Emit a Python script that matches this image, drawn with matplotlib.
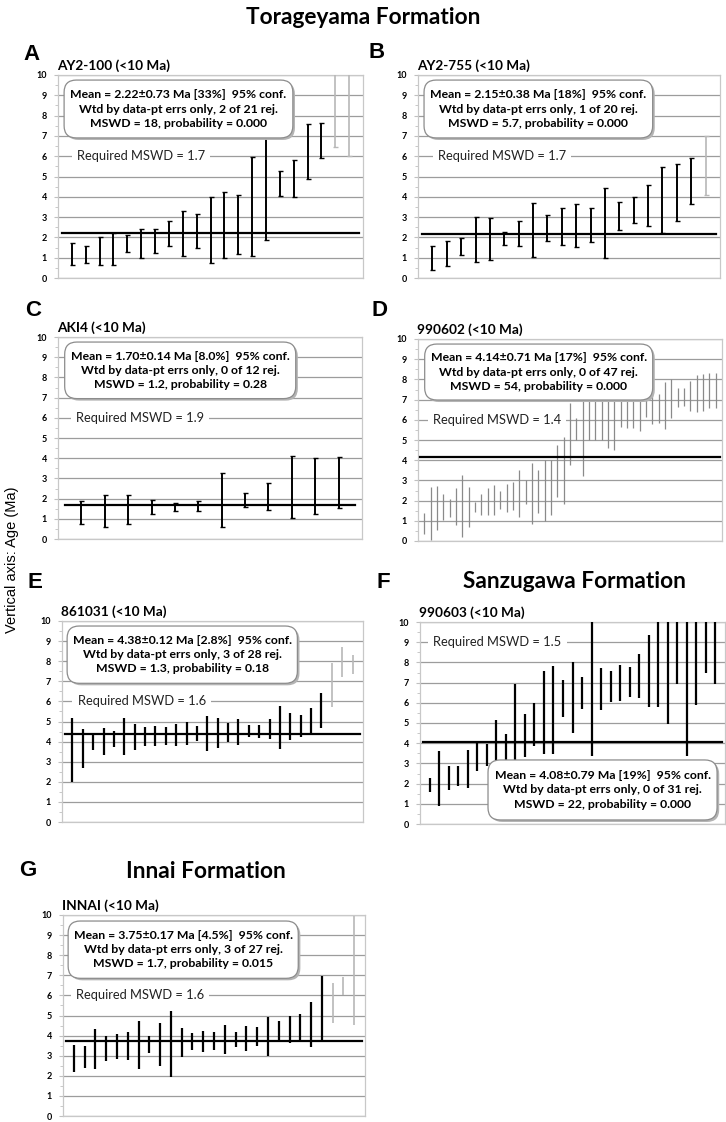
import numpy as np
import matplotlib
matplotlib.use("Agg")
import matplotlib.pyplot as plt
from matplotlib.patches import FancyBboxPatch

plt.rcParams['font.family'] = ['Lato', 'DejaVu Sans']

W, H = 726, 1122

# ---- data: lower / upper ends of each error bar (Ma) ----
A_lo = [0.65, 0.75, 0.65, 0.65, 1.3, 1.0, 1.25, 1.6, 1.1, 1.5, 0.75, 1.0, 1.2, 1.1, 1.85, 4.05, 4.0, 4.9, 5.9, 6.45, 6.0]
A_hi = [1.7, 1.6, 2.0, 2.2, 2.1, 2.4, 2.4, 2.8, 3.3, 3.15, 4.0, 4.25, 4.1, 5.95, 9.0, 5.25, 5.8, 7.6, 7.65, 10.5, 10.5]
A_rej = [20, 21]

B_lo = [0.4, 0.6, 1.15, 0.8, 0.9, 1.65, 1.6, 1.05, 1.8, 1.65, 1.55, 1.75, 1.0, 2.35, 2.7, 2.55, 2.2, 2.8, 3.65, 4.1]
B_hi = [1.6, 1.8, 1.95, 3.0, 2.95, 2.25, 2.8, 3.7, 3.1, 3.45, 3.65, 3.45, 4.45, 3.75, 4.0, 4.6, 5.45, 5.6, 5.9, 7.0]
B_rej = [20]

C_lo = [0.75, 0.6, 0.75, 1.25, 1.4, 1.4, 0.6, 1.6, 1.45, 1.05, 1.25, 1.55]
C_hi = [1.9, 2.2, 2.2, 1.95, 1.8, 1.9, 3.25, 2.3, 2.75, 4.1, 4.0, 4.05]
C_rej = []

D_lo = [0.36, 0.07, 0.53, 1.02, 1.19, 0.78, 0.2, 0.7, 1.44, 1.27, 1.27, 1.27, 1.6, 1.44, 1.52, 1.19,
        1.85, 0.86, 1.39, 0.99, 1.27, 2.18, 1.85,
        3.75, 5.0, 3.2, 5.0, 5.0, 5.0, 4.6, 4.5, 5.65, 5.6, 5.6, 5.45, 6.15, 5.8, 5.85, 5.55,
        6.1, 6.65, 6.7, 6.45, 6.4, 6.45, 6.6, 6.6]
D_hi = [1.39, 2.68, 2.71, 2.35, 2.1, 2.6, 3.26, 2.68, 1.93, 2.35, 2.6, 2.76, 2.48, 2.84, 2.93, 3.5,
        3.0, 3.87, 3.5, 4.0, 4.0, 4.74, 5.16,
        6.85, 6.1, 7.6, 7.5, 7.4, 7.3, 7.5, 7.4, 7.2, 7.3, 7.2, 7.1, 7.2, 7.4, 7.3, 7.85,
        8.0, 7.55, 7.55, 7.9, 8.2, 8.25, 8.3, 8.3]
D_rej = []

E_lo = [1.99, 2.7, 3.6, 3.35, 3.71, 3.32, 3.6, 3.76, 3.76, 3.85, 3.76, 3.81, 4.01, 3.53, 3.68, 3.98,
        3.81, 4.23, 4.18, 4.15, 3.65, 4.06, 4.23, 4.31, 4.69, 5.72, 7.21, 7.35]
E_hi = [5.17, 4.64, 4.31, 4.68, 4.51, 5.17, 4.89, 4.73, 4.78, 4.73, 4.89, 4.98, 4.76, 5.27, 5.19, 4.93,
        5.14, 4.84, 4.84, 5.14, 5.77, 5.44, 5.34, 5.67, 6.43, 7.91, 8.71, 8.29]
E_rej = [26, 27, 28]

F_lo = [1.58, 0.87, 1.66, 1.86, 1.78, 2.6, 2.85, 3.0, 3.0, 3.0, 3.34, 3.87, 3.47, 3.47, 5.28, 4.49,
        5.7, 3.37, 5.64, 6.03, 6.1, 6.3, 6.25, 5.77, 5.77, 4.94, 6.95, 3.37, 5.88, 7.47, 6.93]
F_hi = [2.3, 3.59, 2.85, 2.89, 3.67, 4.08, 3.95, 5.15, 4.46, 6.92, 5.43, 5.97, 7.57, 7.83, 7.12, 8.0,
        7.29, 10.5, 7.74, 7.57, 7.88, 7.78, 8.42, 9.38, 10.5, 10.5, 10.5, 10.5, 10.5, 10.5, 10.5]
F_rej = []

G_lo = [2.17, 2.37, 2.32, 2.74, 2.84, 2.79, 2.32, 3.12, 2.49, 1.92, 2.92, 3.28, 3.2, 3.28, 3.08, 3.45,
        3.25, 3.48, 3.0, 3.7, 3.65, 3.73, 3.45, 3.73, 4.61, 6.02, 4.53]
G_hi = [3.53, 3.48, 4.31, 3.98, 4.08, 4.16, 4.73, 3.98, 4.64, 5.22, 4.36, 4.11, 4.23, 4.2, 4.53, 4.2,
        4.48, 4.44, 4.94, 4.74, 4.98, 5.07, 5.69, 6.97, 6.63, 6.93, 9.95]
G_rej = [25, 26, 27]

means = [2.22, 2.15, 1.70, 4.14, 4.38, 4.08, 3.75]
req_mswd = ["1.7", "1.7", "1.9", "1.4", "1.6", "1.5", "1.6"]
subtitles = ["AY2-100 (<10 Ma)", "AY2-755 (<10 Ma)", "AKI4 (<10 Ma)", "990602 (<10 Ma)",
             "861031 (<10 Ma)", "990603 (<10 Ma)", "INNAI (<10 Ma)"]
box_texts = [
    "Mean = 2.22\u00b10.73 Ma [33%]  95% conf.\nWtd by data-pt errs only, 2 of 21 rej.\nMSWD = 18, probability = 0.000",
    "Mean = 2.15\u00b10.38 Ma [18%]  95% conf.\nWtd by data-pt errs only, 1 of 20 rej.\nMSWD = 5.7, probability = 0.000",
    "Mean = 1.70\u00b10.14 Ma [8.0%]  95% conf.\nWtd by data-pt errs only, 0 of 12 rej.\nMSWD = 1.2, probability = 0.28",
    "Mean = 4.14\u00b10.71 Ma [17%]  95% conf.\nWtd by data-pt errs only, 0 of 47 rej.\nMSWD = 54, probability = 0.000",
    "Mean = 4.38\u00b10.12 Ma [2.8%]  95% conf.\nWtd by data-pt errs only, 3 of 28 rej.\nMSWD = 1.3, probability = 0.18",
    "Mean = 4.08\u00b10.79 Ma [19%]  95% conf.\nWtd by data-pt errs only, 0 of 31 rej.\nMSWD = 22, probability = 0.000",
    "Mean = 3.75\u00b10.17 Ma [4.5%]  95% conf.\nWtd by data-pt errs only, 3 of 27 rej.\nMSWD = 1.7, probability = 0.015",
]
letters = ["A", "B", "C", "D", "E", "F", "G"]

# ---- layout (pixels) ----
panels = [  # left, top, right, bottom
    (58, 75, 363, 278),
    (418, 75, 720, 278),
    (58, 337, 362, 539),
    (418, 339, 722, 541),
    (62, 621, 363, 822),
    (420, 622, 725, 824),
    (63, 915, 365, 1116),
]
letter_pos = [(32, 55), (377, 53), (33, 311), (380, 311), (35, 583), (383, 582), (28, 871)]
box_pos = [  # x0, x1, y0, y1 in axes fraction
    (0.02, 0.77, 0.69, 0.975),
    (0.02, 0.777, 0.69, 0.975),
    (0.022, 0.782, 0.695, 0.975),
    (0.022, 0.772, 0.698, 0.975),
    (0.017, 0.782, 0.69, 0.975),
    (0.223, 0.974, 0.02, 0.317),
    (0.017, 0.779, 0.685, 0.97),
]
req_pos = [(0.062, 6), (0.066, 6), (0.06, 6), (0.05, 6), (0.052, 6), (0.044, 9), (0.042, 6)]
styles = ["cap", "cap", "cap", "thin", "thick", "thick", "thick"]

data = [(A_lo, A_hi, A_rej), (B_lo, B_hi, B_rej), (C_lo, C_hi, C_rej), (D_lo, D_hi, D_rej),
        (E_lo, E_hi, E_rej), (F_lo, F_hi, F_rej), (G_lo, G_hi, G_rej)]

fig = plt.figure(figsize=(W / 100, H / 100), dpi=100)


def px(x, y):
    return x / W, 1 - y / H


for i in range(7):
    l, t, r, b = panels[i]
    ax = fig.add_axes([l / W, 1 - b / H, (r - l) / W, (b - t) / H])
    lo, hi, rej = data[i]
    lo = np.array(lo)
    hi = np.array(hi)
    n = len(lo)
    x = np.arange(1, n + 1)
    good = np.array([k not in rej for k in x])

    ax.set_xlim(0, n + 1)
    ax.set_ylim(0, 10)
    ax.set_yticks(range(11))
    ax.set_yticks(np.arange(0, 10.01, 0.5), minor=True)
    ax.set_xticks([])
    ax.grid(axis='y', color='#9c9c9c', lw=0.9, zorder=0)
    ax.set_axisbelow(True)
    for s in ax.spines.values():
        s.set_color('#c8c8c8')
        s.set_linewidth(0.9)
    ax.tick_params(axis='y', which='major', length=3, color='#c0c0c0', labelsize=6.5, pad=5)
    ax.tick_params(axis='y', which='minor', length=2, color='#c0c0c0')
    for lab in ax.get_yticklabels():
        lab.set_fontweight('bold')

    mid = (lo + hi) / 2
    err = (hi - lo) / 2
    if styles[i] == "cap":
        ax.errorbar(x[good], mid[good], yerr=err[good], fmt='none', ecolor='black',
                    elinewidth=1.4, capsize=1.8, capthick=1.0, zorder=3)
        ax.errorbar(x[~good], mid[~good], yerr=err[~good], fmt='none', ecolor='#b8b8b8',
                    elinewidth=1.2, capsize=1.8, capthick=1.0, zorder=3)
    elif styles[i] == "thin":
        ax.errorbar(x, mid, yerr=err, fmt='none', ecolor='#8a8a8a', elinewidth=0.9, zorder=3)
    else:
        ax.errorbar(x[good], mid[good], yerr=err[good], fmt='none', ecolor='black',
                    elinewidth=1.6, zorder=3)
        ax.errorbar(x[~good], mid[~good], yerr=err[~good], fmt='none', ecolor='#b8b8b8',
                    elinewidth=1.2, zorder=3)

    ax.plot([0.3, n + 0.7], [means[i], means[i]], color='black', lw=1.6, zorder=4)

    # required MSWD label
    rx, ry = req_pos[i]
    ax.text(rx, ry, "Required MSWD = " + req_mswd[i], transform=ax.get_yaxis_transform(),
            fontsize=9.3, va='center', ha='left', color='#222222', zorder=5,
            bbox=dict(boxstyle='square,pad=0.4', fc='white', ec='none'))

    # rounded result box with a soft shadow
    x0, x1, y0, y1 = box_pos[i]
    asp = (r - l) / (b - t)
    sh = FancyBboxPatch((x0 + 0.007, y0 - 0.01), x1 - x0, y1 - y0,
                        boxstyle="round,pad=0,rounding_size=0.04", mutation_aspect=asp,
                        transform=ax.transAxes, fc='#b4b4b4', ec='none', zorder=6, clip_on=False)
    ax.add_patch(sh)
    bx = FancyBboxPatch((x0, y0), x1 - x0, y1 - y0,
                        boxstyle="round,pad=0,rounding_size=0.04", mutation_aspect=asp,
                        transform=ax.transAxes, fc='white', ec='#8c8c8c', lw=0.9, zorder=7,
                        clip_on=False)
    ax.add_patch(bx)
    ax.text((x0 + x1) / 2, (y0 + y1) / 2, box_texts[i], transform=ax.transAxes,
            ha='center', va='center', fontsize=8.8, fontweight='bold', linespacing=1.35, zorder=8)

    # subtitle and panel letter
    fig.text(*px(l - 1, t - 3), subtitles[i], fontsize=9.8, fontweight='bold', ha='left', va='bottom')
    fig.text(*px(*letter_pos[i]), letters[i], fontsize=16, fontweight='bold', ha='center',
             va='center', family='Liberation Sans')

fig.text(*px(363, 18), "Torageyama Formation", fontsize=16.3, fontweight='bold', ha='center', va='center')
fig.text(*px(574, 582), "Sanzugawa Formation", fontsize=16.3, fontweight='bold', ha='center', va='center')
fig.text(*px(206, 871), "Innai Formation", fontsize=16.3, fontweight='bold', ha='center', va='center')
fig.text(*px(12, 560), "Vertical axis: Age (Ma)", fontsize=10.5, rotation=90, ha='center', va='center',
         family='Liberation Sans')

fig.savefig("out.png", dpi=100)
